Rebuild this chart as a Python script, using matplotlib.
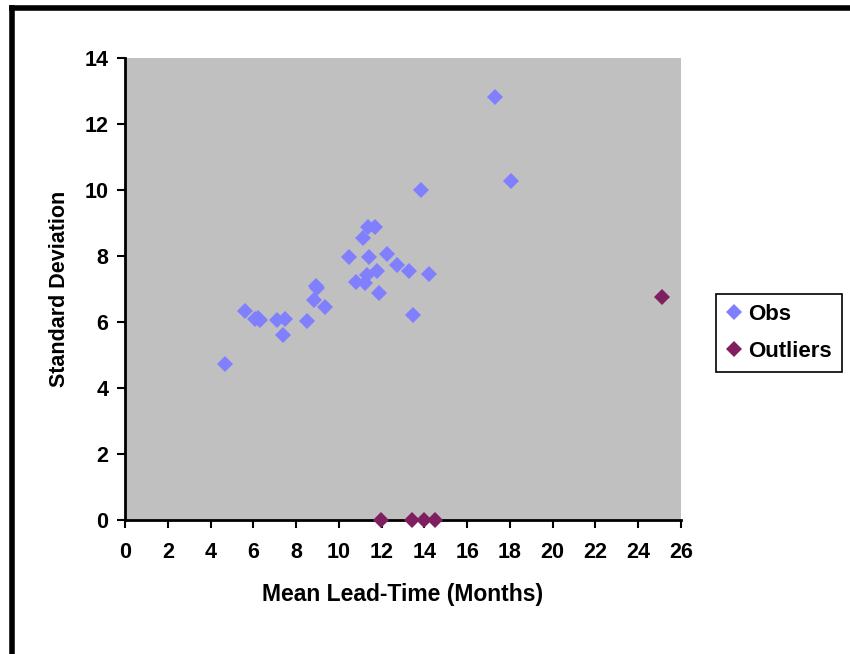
"""Scatter of lead-time standard deviation against mean lead-time.

Observed items in blue, outliers in plum, drawn in the old Excel style
(grey plot area, black frame round the figure). Saves out.png.
"""

import matplotlib.pyplot as plt
from matplotlib.lines import Line2D

plt.rcParams["font.family"] = ["Liberation Sans", "DejaVu Sans"]
plt.rcParams["font.weight"] = "bold"
plt.rcParams["axes.labelweight"] = "bold"

obs_mean = [4.68, 5.61, 6.08, 6.31, 6.2, 7.12, 7.48, 7.39, 8.49, 8.85, 9.0, 8.95,
            9.35, 10.47, 10.8, 11.22, 11.3, 11.41, 11.11, 11.38, 11.69, 11.77,
            11.88, 12.25, 12.72, 13.26, 13.45, 14.2, 13.84, 17.29, 18.03]
obs_sd = [4.72, 6.34, 6.09, 6.06, 6.12, 6.06, 6.1, 5.62, 6.04, 6.66, 7.04, 7.1,
          6.46, 7.98, 7.2, 7.17, 7.42, 7.98, 8.54, 8.89, 8.89, 7.55,
          6.89, 8.05, 7.74, 7.55, 6.22, 7.44, 10.0, 12.83, 10.28]

# Outliers series.
out_mean = [25.11, 11.97, 13.4, 13.98, 14.51]
out_sd = [6.76, 0.0, 0.0, 0.0, 0.0]

x_ticks = list(range(0, 27, 2))
y_ticks = list(range(0, 15, 2))

OBS_COLOR = "#8080ff"
OUT_COLOR = "#7f1f5f"

fig = plt.figure(figsize=(8.5, 6.54), dpi=100)
ax = fig.add_axes([125 / 850, 1 - 520 / 654, 556 / 850, 462 / 654])
ax.set_facecolor("#c0c0c0")

ax.plot(obs_mean, obs_sd, "D", color=OBS_COLOR, ms=7.8, mew=0, label="Obs",
        clip_on=False, zorder=3)
ax.plot(out_mean, out_sd, "D", color=OUT_COLOR, ms=7.8, mew=0, label="Outliers",
        clip_on=False, zorder=3)

ax.set_xlim(0, 26)
ax.set_ylim(0, 14)
ax.set_xticks(x_ticks)
ax.set_yticks(y_ticks)
ax.tick_params(axis="both", direction="out", length=6, width=1.5, labelsize=15.5)
ax.tick_params(axis="x", pad=10)
ax.tick_params(axis="y", pad=6)
for side in ("top", "right"):
    ax.spines[side].set_visible(False)
for side in ("left", "bottom"):
    ax.spines[side].set_linewidth(2)

ax.set_xlabel("Mean Lead-Time (Months)", fontsize=16.5, labelpad=14)
ax.set_ylabel("Standard Deviation", fontsize=15.5, labelpad=10)

leg = fig.legend(loc="upper left", bbox_to_anchor=(716 / 850, 1 - 294 / 654),
                 fontsize=16, frameon=True, fancybox=False, edgecolor="black",
                 framealpha=1, borderpad=0.45, handlelength=0.7,
                 handletextpad=0.3, labelspacing=0.7, borderaxespad=0)
leg.get_frame().set_linewidth(1.2)

# Figure frame: only its top and left edges fall inside the picture.
frame_x = 11.5 / 850
frame_y = 1 - 7.5 / 654
fig.add_artist(Line2D([frame_x, 1.0], [frame_y, frame_y], color="black",
                      linewidth=4, transform=fig.transFigure))
fig.add_artist(Line2D([frame_x, frame_x], [0.0, frame_y], color="black",
                      linewidth=4, transform=fig.transFigure))

fig.savefig("out.png", dpi=100)
